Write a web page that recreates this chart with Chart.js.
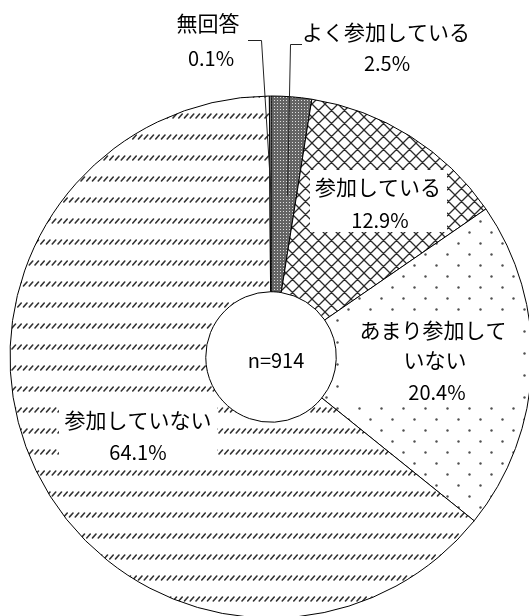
<!DOCTYPE html>
<html>
<head>
<meta charset="utf-8">
<script src="https://cdn.jsdelivr.net/npm/chart.js"></script>
<style>
html, body { margin: 0; padding: 0; background: #fff; overflow: hidden; }
#wrap { position: relative; width: 529px; height: 616px; overflow: hidden; }
</style>
</head>
<body>
<div id="wrap"><canvas id="grafico_pizza" width="560" height="616"></canvas></div>
<script>
// dados (sentido horario a partir do topo)
var categorias = ['よく参加している', '参加している', 'あまり参加していない', '参加していない', '無回答'];
var valores = [2.5, 12.9, 20.4, 64.1, 0.1];
var rotulosPct = ['2.5%', '12.9%', '20.4%', '64.1%', '0.1%'];
var totalN = 'n=914';

// posicao dos rotulos (so layout)
var layoutRotulos = [
  { x: 386, y: 32, px: 387, py: 63, linha: [[302, 44], [290, 44], [287, 195]] },
  { x: 378, y: 187, px: 380, py: 220, caixa: [310, 170, 447, 232] },
  { x: 433, y: 330, px: 437, py: 392, quebra: 7, caixa: [342, 312, 517, 406] },
  { x: 138, y: 420, px: 138, py: 452, caixa: [59, 400, 217, 468] },
  { x: 208, y: 23, px: 211, py: 58, linha: [[248, 40], [261, 40], [271, 200]] }
];

const canvas = document.getElementById('grafico_pizza');
const grafico = canvas.getContext('2d');

function padrao(w, h, desenhar) {
  var c = document.createElement('canvas');
  c.width = w; c.height = h;
  var g = c.getContext('2d');
  g.fillStyle = '#fff';
  g.fillRect(0, 0, w, h);
  desenhar(g);
  return grafico.createPattern(c, 'repeat');
}

// xadrez fino escuro
var pEscuro = padrao(3, 3, function (g) {
  g.fillStyle = '#646464';
  g.fillRect(0, 0, 3, 3);
  g.fillStyle = '#e0e0e0';
  g.fillRect(1, 1, 1, 1);
});

// grade diagonal
var pGrade = padrao(13, 13, function (g) {
  g.strokeStyle = '#2a2a2a';
  g.lineWidth = 1.3;
  g.beginPath();
  for (var dx = -13; dx <= 13; dx += 13) {
    g.moveTo(dx, 0); g.lineTo(dx + 13, 13);
    g.moveTo(dx, 13); g.lineTo(dx + 13, 0);
  }
  g.stroke();
});

// pontos
var pPontos = padrao(22, 22, function (g) {
  g.fillStyle = '#505050';
  [[7.5, 12.5], [18.5, 1.5], [18.5, 23.5]].forEach(function (p) {
    g.beginPath();
    g.arc(p[0], p[1], 1.2, 0, Math.PI * 2);
    g.fill();
  });
});

// tracinhos diagonais
var pTracos = padrao(23, 21, function (g) {
  g.strokeStyle = '#333';
  g.lineWidth = 1.6;
  g.lineCap = 'round';
  g.beginPath();
  for (var i = -1; i <= 4; i++) {
    var x = i * 5.75;
    g.moveTo(x + 0.5, 13); g.lineTo(x + 4, 9);
  }
  g.stroke();
});

const rotulosPlugin = {
  id: 'rotulos',
  afterDraw(chart) {
    const ctx = chart.ctx;
    const arco = chart.getDatasetMeta(0).data[0];
    ctx.save();
    ctx.textAlign = 'center';
    ctx.textBaseline = 'middle';

    for (var i = 0; i < categorias.length; i++) {
      var l = layoutRotulos[i];
      if (l.caixa) {
        ctx.fillStyle = '#fff';
        ctx.fillRect(l.caixa[0], l.caixa[1], l.caixa[2] - l.caixa[0], l.caixa[3] - l.caixa[1]);
      }
      if (l.linha) {
        ctx.strokeStyle = '#222';
        ctx.lineWidth = 1;
        ctx.beginPath();
        ctx.moveTo(l.linha[0][0], l.linha[0][1] + 0.5);
        for (var k = 1; k < l.linha.length; k++) {
          ctx.lineTo(l.linha[k][0] + 0.5, l.linha[k][1] + 0.5);
        }
        ctx.stroke();
      }
      ctx.fillStyle = '#000';
      ctx.font = '21px "Noto Sans CJK JP"';
      var nome = categorias[i];
      if (l.quebra) {
        ctx.fillText(nome.slice(0, l.quebra), l.x, l.y);
        ctx.fillText(nome.slice(l.quebra), l.x + 2, l.y + 30);
      } else {
        ctx.fillText(nome, l.x, l.y);
      }
      ctx.font = '20px "Noto Sans CJK JP"';
      ctx.fillText(rotulosPct[i], l.px, l.py);
    }

    ctx.font = '20px "Noto Sans CJK JP"';
    ctx.fillText(totalN, arco.x + 5, arco.y + 3);
    ctx.restore();
  }
};

new Chart(grafico, {
  type: 'doughnut',
  data: {
    labels: categorias,
    datasets: [{
      data: valores,
      backgroundColor: [pEscuro, pGrade, pPontos, pTracos, '#ffffff'],
      borderColor: '#000',
      borderWidth: 1
    }]
  },
  options: {
    responsive: false,
    animation: false,
    radius: 261,
    cutout: '25%',
    layout: {
      padding: { left: 10, right: 28, top: 100, bottom: 2 }
    },
    plugins: {
      legend: { display: false },
      tooltip: { enabled: false }
    },
    events: []
  },
  plugins: [rotulosPlugin]
});
</script>
</body>
</html>
